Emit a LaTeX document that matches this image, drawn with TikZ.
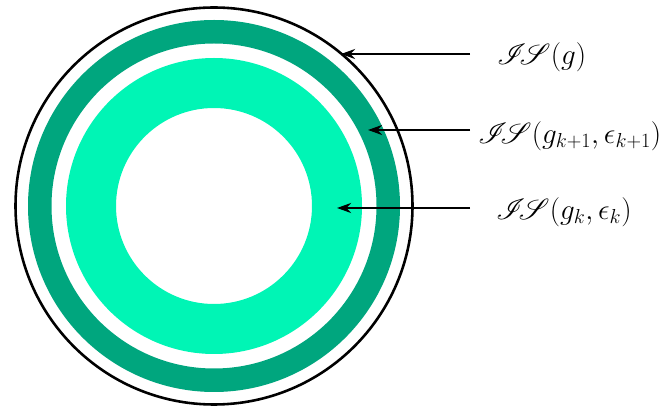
\documentclass[tikz,border=0pt]{standalone}
\usepackage{amsmath}
\usepackage{mathrsfs}
\usetikzlibrary{arrows.meta}
\definecolor{ringdark}{HTML}{00A67E}
\definecolor{ringlight}{HTML}{00F5B5}
\newcommand{\isc}{\mathscr{I}\mkern-4mu\mathscr{S}}

\begin{document}
\begin{tikzpicture}[
  >={Stealth[length=12pt,width=8.5pt]},
  arr/.style={->, line width=2.4pt, color=black},
  lab/.style={anchor=west, inner sep=0pt, font=\fontsize{23}{28}\selectfont},
]
\useasboundingbox (0,0) rectangle (19.92,12.3);

% rings
\coordinate (c) at (6.42,6.12);
\fill[ringdark, even odd rule] (c) circle (5.58) (c) circle (4.875);
\fill[ringlight, even odd rule] (c) circle (4.44) (c) circle (2.94);
\draw[line width=2.2pt] (c) circle (5.955);

% labels
\node[lab] (is) at (14.91,10.58) {$\isc(g)$};
\node[lab] (isnext) at (14.34,8.22) {$\isc(g_{k+1},\epsilon_{k+1})$};
\node[lab] (isk) at (14.88,5.94) {$\isc(g_k,\epsilon_k)$};

\coordinate (s1) at (14.1,10.68);
\coordinate (t1) at (10.23,10.68);
\coordinate (s2) at (14.1,8.40);
\coordinate (t2) at (11.04,8.40);
\coordinate (s3) at (14.1,6.06);
\coordinate (t3) at (10.11,6.06);

\draw[arr] (s1) -- (t1);
\draw[arr] (s2) -- (t2);
\draw[arr] (s3) -- (t3);

\end{tikzpicture}
\end{document}
